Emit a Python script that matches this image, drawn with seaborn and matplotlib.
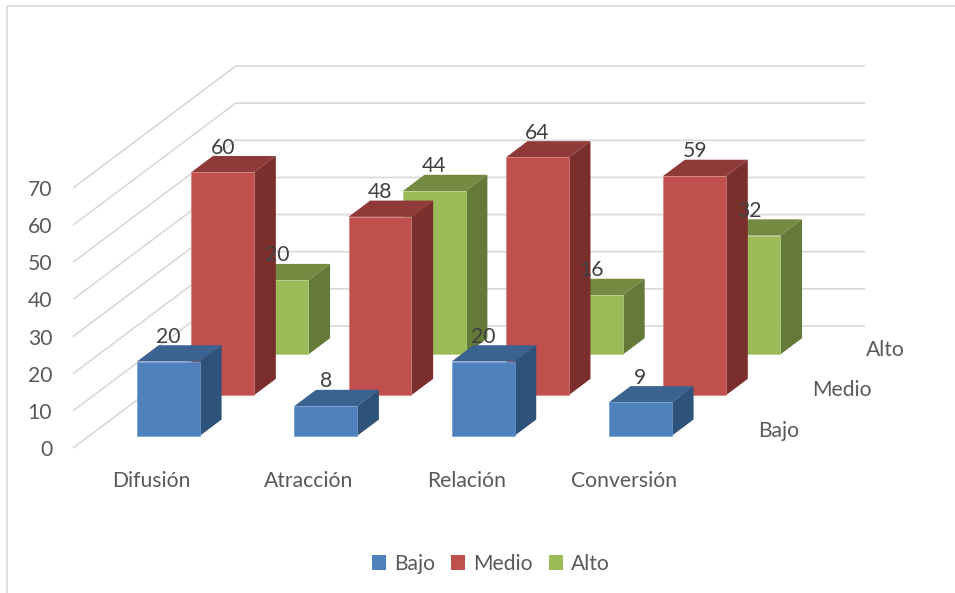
import matplotlib
matplotlib.use("Agg")
import matplotlib.pyplot as plt
from matplotlib.lines import Line2D
from matplotlib.patches import Patch
import pandas as pd
import seaborn as sns

categories = ["Difusión", "Atracción", "Relación", "Conversión"]
series_names = ["Bajo", "Medio", "Alto"]
bajo = [20, 8, 20, 9]
medio = [60, 48, 64, 59]
alto = [20, 44, 16, 32]
y_ticks = [0, 10, 20, 30, 40, 50, 60, 70]

W, H = 955, 593
sns.set_theme(style="white")
plt.rcParams["font.family"] = ["Lato", "DejaVu Sans"]

front = ["#4F81BD", "#C0504D", "#9BBB59"]
top = ["#3A6391", "#8F3A38", "#748C42"]
side = ["#2F527A", "#7A2F2D", "#647A39"]
edge = ["#6F9AD0", "#D6807D", "#B5CF80"]
GRID = "#D9D9D9"
FS = 15.2

# oblique projection: one series of depth shifts by these many data units
DX = 54.3 / 157.5
DY = 40.67 / 3.714
BAR_W = 0.4
BAR_D = 0.4
FRONT = 0.3
NUDGE = 0.5 / 157.5

fig = plt.figure(figsize=(W / 100, H / 100), dpi=100, facecolor="white")
ax = fig.add_axes([73 / W, 1 - 448 / H, (865 - 73) / W, (448 - 66) / H])
ax.set_facecolor("none")

XMIN, XMAX = -0.5, 3.5 + 3 * DX
YMIN, YMAX = 0, y_ticks[-1] + 3 * DY

# walls
for v in y_ticks:
    ax.plot([XMIN, XMIN + 3 * DX, XMAX], [v, v + 3 * DY, v + 3 * DY],
            color=GRID, lw=1.2, zorder=1, clip_on=False, solid_capstyle="butt",
            solid_joinstyle="miter")

values = [bajo, medio, alto]
for s in (2, 1, 0):
    x0 = FRONT + s
    shift_x, shift_y = DX * x0 + NUDGE, DY * x0
    dxb, dyb = DX * BAR_D, DY * BAR_D
    z = 10 + (2 - s) * 5
    positions = [i + shift_x for i in range(len(categories))]
    df = pd.DataFrame({"pos": positions, "valor": values[s]})
    sns.barplot(data=df, x="pos", y="valor", native_scale=True, width=BAR_W,
                bottom=shift_y, color=front[s], saturation=1, ax=ax,
                edgecolor=edge[s], linewidth=0.5, zorder=z + 2, errorbar=None)
    for p, v in zip(positions, values[s]):
        l, r = p - BAR_W / 2, p + BAR_W / 2
        b, t = shift_y, shift_y + v
        ax.fill([l, r, r + dxb, l + dxb], [t, t, t + dyb, t + dyb],
                color=top[s], lw=0, zorder=z)
        ax.fill([r, r + dxb, r + dxb, r], [b, b + dyb, t + dyb, t],
                color=side[s], lw=0, zorder=z + 1)
        ax.text(p, t + dyb + 8.5 / 3.714, f"{v}", ha="center", va="center",
                fontsize=FS, color="#404040", zorder=50)
    ax.text(3.5 + DX * (s + 0.5) + 0.18, DY * (s + 0.5) - 0.9, series_names[s],
            ha="left", va="center", fontsize=FS, color="#595959", clip_on=False)

ax.set_xlim(XMIN, XMAX)
ax.set_ylim(YMIN, YMAX)
ax.set_xticks(range(len(categories)), categories)
ax.set_yticks(y_ticks, [str(v) for v in y_ticks])
ax.set_xlabel("")
ax.set_ylabel("")
ax.tick_params(axis="x", length=0, pad=16.5, labelsize=FS, colors="#595959")
ax.tick_params(axis="y", length=0, pad=15, labelsize=FS, colors="#595959")
for sp in ax.spines.values():
    sp.set_visible(False)

handles = [Patch(facecolor=c, edgecolor="none", label=n) for c, n in zip(front, series_names)]
fig.legend(handles=handles, loc="center", bbox_to_anchor=(491 / W, 1 - 564 / H),
           ncol=3, frameon=False, fontsize=FS, labelcolor="#595959",
           handlelength=0.66, handleheight=0.66, handletextpad=0.4, columnspacing=0.75,
           borderpad=0, borderaxespad=0)

# chart-area border
fig.add_artist(Line2D([6.5 / W, 6.5 / W, 1], [0, 1 - 5.5 / H, 1 - 5.5 / H],
                      color=GRID, lw=1.1, transform=fig.transFigure))

fig.savefig("out.png", dpi=100)
